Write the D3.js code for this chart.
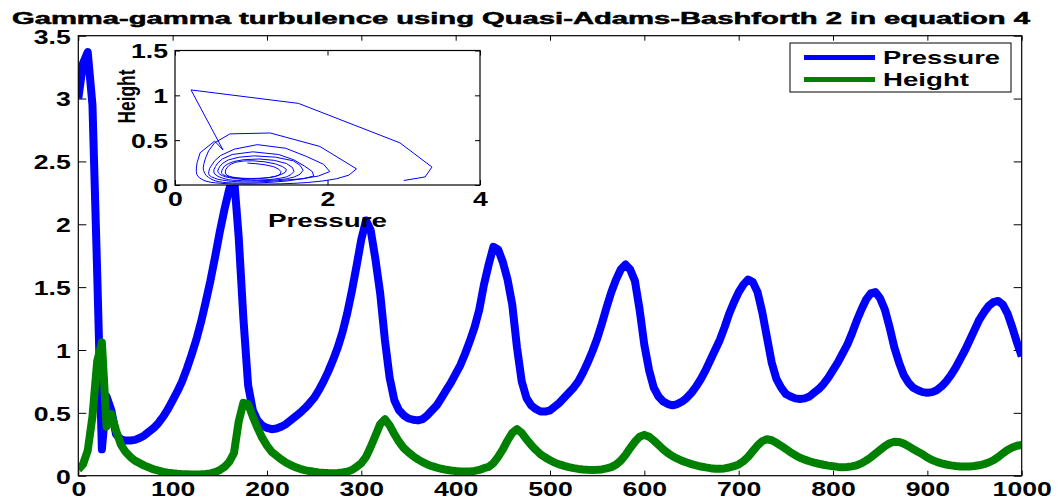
<!DOCTYPE html>
<html>
<head>
<meta charset="utf-8">
<script src="https://cdnjs.cloudflare.com/ajax/libs/d3/7.8.5/d3.min.js"></script>
<style>
  html, body { margin: 0; padding: 0; background: #ffffff; }
  svg { display: block; font-family: "Liberation Sans", Arial, Helvetica, sans-serif; font-weight: bold; }
</style>
</head>
<body>
<svg id="chart" width="1062" height="503"></svg>
<script>
// Sample times of the solver output (step 5)
const sampleTimes = d3.range(0, 1001, 5);

// Pressure at each sample time
const pressure = [
  3.00, 3.28, 3.37, 2.95, 1.62, 0.21, 0.63, 0.52, 0.33, 0.29,
  0.28, 0.28, 0.285, 0.30, 0.32, 0.35, 0.38, 0.42, 0.47, 0.53,
  0.60, 0.67, 0.75, 0.85, 0.96, 1.08, 1.22, 1.38, 1.55, 1.74,
  1.94, 2.12, 2.28, 2.38, 1.90, 1.25, 0.72, 0.52, 0.44, 0.40,
  0.38, 0.37, 0.375, 0.39, 0.41, 0.44, 0.47, 0.50, 0.535, 0.575,
  0.62, 0.68, 0.75, 0.83, 0.92, 1.02, 1.14, 1.29, 1.47, 1.67,
  1.88, 2.03, 1.95, 1.72, 1.45, 1.08, 0.78, 0.60, 0.52, 0.48,
  0.455, 0.445, 0.44, 0.45, 0.48, 0.52, 0.56, 0.62, 0.68, 0.74,
  0.81, 0.88, 0.97, 1.07, 1.18, 1.32, 1.52, 1.68, 1.82, 1.80,
  1.70, 1.56, 1.36, 1.02, 0.75, 0.62, 0.56, 0.53, 0.51, 0.51,
  0.52, 0.55, 0.58, 0.62, 0.66, 0.70, 0.75, 0.82, 0.90, 0.99,
  1.09, 1.21, 1.34, 1.46, 1.56, 1.64, 1.68, 1.64, 1.55, 1.32,
  1.04, 0.84, 0.70, 0.63, 0.59, 0.57, 0.56, 0.57, 0.59, 0.62,
  0.66, 0.71, 0.77, 0.84, 0.92, 1.00, 1.08, 1.18, 1.29, 1.38,
  1.46, 1.52, 1.56, 1.54, 1.46, 1.30, 1.10, 0.90, 0.77, 0.70,
  0.65, 0.63, 0.615, 0.61, 0.615, 0.63, 0.66, 0.69, 0.73, 0.78,
  0.84, 0.90, 0.97, 1.04, 1.13, 1.23, 1.32, 1.40, 1.45, 1.46,
  1.41, 1.32, 1.18, 1.02, 0.90, 0.80, 0.74, 0.70, 0.68, 0.665,
  0.66, 0.665, 0.68, 0.71, 0.75, 0.80, 0.86, 0.93, 1.00, 1.08,
  1.16, 1.24, 1.30, 1.35, 1.38, 1.39, 1.36, 1.29, 1.18, 1.06,
  0.95
];

// Height at each sample time
const height = [
  0.05, 0.09, 0.20, 0.47, 0.91, 1.06, 0.39, 0.49, 0.36, 0.25,
  0.19, 0.15, 0.12, 0.10, 0.08, 0.065, 0.05, 0.04, 0.03, 0.024,
  0.019, 0.015, 0.012, 0.011, 0.01, 0.01, 0.011, 0.013, 0.018, 0.028,
  0.045, 0.07, 0.11, 0.18, 0.43, 0.58, 0.57, 0.47, 0.38, 0.30,
  0.24, 0.19, 0.16, 0.13, 0.105, 0.085, 0.068, 0.055, 0.045, 0.037,
  0.031, 0.026, 0.023, 0.021, 0.02, 0.021, 0.025, 0.032, 0.045, 0.07,
  0.10, 0.15, 0.23, 0.32, 0.41, 0.45, 0.40, 0.33, 0.27, 0.22,
  0.185, 0.155, 0.13, 0.108, 0.09, 0.076, 0.064, 0.055, 0.047, 0.041,
  0.037, 0.034, 0.033, 0.034, 0.038, 0.046, 0.06, 0.07, 0.10, 0.15,
  0.21, 0.28, 0.34, 0.37, 0.34, 0.29, 0.245, 0.205, 0.17, 0.145,
  0.123, 0.104, 0.09, 0.078, 0.068, 0.06, 0.054, 0.05, 0.047, 0.046,
  0.047, 0.05, 0.058, 0.068, 0.088, 0.12, 0.165, 0.22, 0.27, 0.31,
  0.325, 0.31, 0.28, 0.245, 0.21, 0.18, 0.155, 0.135, 0.118, 0.105,
  0.092, 0.082, 0.073, 0.066, 0.06, 0.056, 0.055, 0.058, 0.065, 0.076,
  0.09, 0.115, 0.15, 0.195, 0.24, 0.275, 0.29, 0.282, 0.262, 0.238,
  0.212, 0.186, 0.163, 0.143, 0.128, 0.115, 0.104, 0.095, 0.087, 0.08,
  0.075, 0.07, 0.068, 0.069, 0.074, 0.083, 0.098, 0.12, 0.145, 0.175,
  0.205, 0.235, 0.258, 0.27, 0.268, 0.255, 0.235, 0.212, 0.19, 0.17,
  0.145, 0.125, 0.11, 0.098, 0.089, 0.082, 0.077, 0.074, 0.073, 0.074,
  0.077, 0.083, 0.092, 0.105, 0.123, 0.148, 0.177, 0.205, 0.225, 0.238,
  0.245
];

const xTicks = [0, 100, 200, 300, 400, 500, 600, 700, 800, 900, 1000];
const yTicks = [0, 0.5, 1, 1.5, 2, 2.5, 3, 3.5];
const insetXTicks = [0, 2, 4];
const insetYTicks = [0, 0.5, 1, 1.5];
const seriesNames = ["Pressure", "Height"];
const seriesColors = ["#0000ff", "#008000"];
const titleText = "Gamma-gamma turbulence using Quasi-Adams-Bashforth 2 in equation 4";

const svg = d3.select("#chart");
const STRETCH = 1.3;       // horizontal widening of the tick lettering
const TICK_FONT = 20.5;

// ---------- main axes ----------
const M = { left: 78.3, right: 1021.7, top: 35.7, bottom: 475.7 };
const x = d3.scaleLinear().domain([0, 1000]).range([M.left, M.right]);
const y = d3.scaleLinear().domain([0, 3.5]).range([M.bottom, M.top]);
const fmt = d => String(d);

function styleTicks(g) {
  g.select(".domain").remove();
  g.selectAll(".tick line").attr("stroke", "#000").attr("stroke-width", 1);
}

const gxb = svg.append("g").attr("transform", `translate(0,${M.bottom})`)
  .call(d3.axisBottom(x).tickValues(xTicks).tickFormat(fmt).tickSizeInner(-5).tickSizeOuter(0));
styleTicks(gxb);
gxb.selectAll("text").attr("y", 20).attr("dy", 0).attr("fill", "#000")
  .attr("font-size", TICK_FONT).attr("font-family", null)
  .attr("transform", `scale(${STRETCH},1)`);

const gxt = svg.append("g").attr("transform", `translate(0,${M.top})`)
  .call(d3.axisTop(x).tickValues(xTicks).tickFormat("").tickSizeInner(-5).tickSizeOuter(0));
styleTicks(gxt);

const gyl = svg.append("g").attr("transform", `translate(${M.left},0)`)
  .call(d3.axisLeft(y).tickValues(yTicks).tickFormat(fmt).tickSizeInner(-8).tickSizeOuter(0));
styleTicks(gyl);
gyl.selectAll("text").attr("x", -7.5 / STRETCH).attr("dy", "0.36em").attr("fill", "#000")
  .attr("font-size", TICK_FONT).attr("font-family", null)
  .attr("transform", `scale(${STRETCH},1)`);

const gyr = svg.append("g").attr("transform", `translate(${M.right},0)`)
  .call(d3.axisRight(y).tickValues(yTicks).tickFormat("").tickSizeInner(-8).tickSizeOuter(0));
styleTicks(gyr);

// series lines
svg.append("clipPath").attr("id", "plotClip").append("rect")
  .attr("x", M.left).attr("y", M.top).attr("width", M.right - M.left).attr("height", M.bottom - M.top);

const seriesData = [pressure, height];
const line = d3.line().x((d, i) => x(sampleTimes[i])).y(d => y(d));
const plot = svg.append("g").attr("clip-path", "url(#plotClip)");
seriesData.forEach((vals, k) => {
  plot.append("path").datum(vals)
    .attr("d", line)
    .attr("fill", "none")
    .attr("stroke", seriesColors[k])
    .attr("stroke-width", 8)
    .attr("stroke-linejoin", "round")
    .attr("stroke-linecap", "butt");
});

svg.append("rect")
  .attr("x", M.left).attr("y", M.top).attr("width", M.right - M.left).attr("height", M.bottom - M.top)
  .attr("fill", "none").attr("stroke", "#000").attr("stroke-width", 1.2);

// title
svg.append("text")
  .attr("x", 12).attr("y", 24)
  .attr("font-size", 16)
  .attr("textLength", 1018).attr("lengthAdjust", "spacingAndGlyphs")
  .attr("fill", "#000")
  .attr("stroke", "#000").attr("stroke-width", 0.5)
  .text(titleText);

// ---------- legend ----------
const L = { x: 790, y: 43, w: 221, h: 49 };
const legend = svg.append("g");
legend.append("rect").attr("x", L.x).attr("y", L.y).attr("width", L.w).attr("height", L.h)
  .attr("fill", "#fff").attr("stroke", "#000").attr("stroke-width", 1);
const legendRows = [57.5, 79.5];
const legendTextLen = [117, 86];
seriesNames.forEach((name, k) => {
  legend.append("line")
    .attr("x1", 804).attr("x2", 875).attr("y1", legendRows[k]).attr("y2", legendRows[k])
    .attr("stroke", seriesColors[k]).attr("stroke-width", 5);
  legend.append("text")
    .attr("x", 883).attr("y", legendRows[k] + 6.5)
    .attr("font-size", 18.6)
    .attr("textLength", legendTextLen[k]).attr("lengthAdjust", "spacingAndGlyphs")
    .attr("fill", "#000")
    .text(name);
});

// ---------- inset: Height against Pressure ----------
const I = { left: 175, right: 480, top: 50.5, bottom: 185 };
const xi = d3.scaleLinear().domain([0, 4]).range([I.left, I.right]);
const yi = d3.scaleLinear().domain([0, 1.5]).range([I.bottom, I.top]);
const inset = svg.append("g");

inset.append("rect")
  .attr("x", I.left).attr("y", I.top).attr("width", I.right - I.left).attr("height", I.bottom - I.top)
  .attr("fill", "#fff");

inset.append("clipPath").attr("id", "insetClip").append("rect")
  .attr("x", I.left).attr("y", I.top).attr("width", I.right - I.left).attr("height", I.bottom - I.top);

const phase = d3.line().x((d, i) => xi(pressure[i])).y((d, i) => yi(height[i]));
inset.append("path").datum(sampleTimes)
  .attr("clip-path", "url(#insetClip)")
  .attr("d", phase)
  .attr("fill", "none")
  .attr("stroke", "#0000ff")
  .attr("stroke-width", 1)
  .attr("stroke-linejoin", "round");

const ixb = inset.append("g").attr("transform", `translate(0,${I.bottom})`)
  .call(d3.axisBottom(xi).tickValues(insetXTicks).tickFormat(fmt).tickSizeInner(-5).tickSizeOuter(0));
styleTicks(ixb);
ixb.selectAll("text").attr("x", 0).attr("y", 21.5).attr("dy", 0).attr("fill", "#000")
  .attr("font-size", TICK_FONT).attr("font-family", null)
  .attr("transform", `scale(${STRETCH},1)`);

const ixt = inset.append("g").attr("transform", `translate(0,${I.top})`)
  .call(d3.axisTop(xi).tickValues(insetXTicks).tickFormat("").tickSizeInner(-5).tickSizeOuter(0));
styleTicks(ixt);

const iyl = inset.append("g").attr("transform", `translate(${I.left},0)`)
  .call(d3.axisLeft(yi).tickValues(insetYTicks).tickFormat(fmt).tickSizeInner(-5).tickSizeOuter(0));
styleTicks(iyl);
iyl.selectAll("text").attr("x", -7 / STRETCH).attr("dy", "0.36em").attr("fill", "#000")
  .attr("font-size", TICK_FONT).attr("font-family", null)
  .attr("transform", `scale(${STRETCH},1)`);

const iyr = inset.append("g").attr("transform", `translate(${I.right},0)`)
  .call(d3.axisRight(yi).tickValues(insetYTicks).tickFormat("").tickSizeInner(-5).tickSizeOuter(0));
styleTicks(iyr);

inset.append("rect")
  .attr("x", I.left).attr("y", I.top).attr("width", I.right - I.left).attr("height", I.bottom - I.top)
  .attr("fill", "none").attr("stroke", "#000").attr("stroke-width", 1.2);

// inset axis labels
inset.append("text")
  .attr("x", 268).attr("y", 226.5)
  .attr("font-size", 19)
  .attr("textLength", 119).attr("lengthAdjust", "spacingAndGlyphs")
  .attr("fill", "#000")
  .text(seriesNames[0]);

inset.append("text")
  .attr("transform", `translate(135,96.5) scale(1.3,1) rotate(-90)`)
  .attr("text-anchor", "middle")
  .attr("font-size", 18.5)
  .attr("textLength", 54).attr("lengthAdjust", "spacingAndGlyphs")
  .attr("fill", "#000")
  .text(seriesNames[1]);
</script>
</body>
</html>
